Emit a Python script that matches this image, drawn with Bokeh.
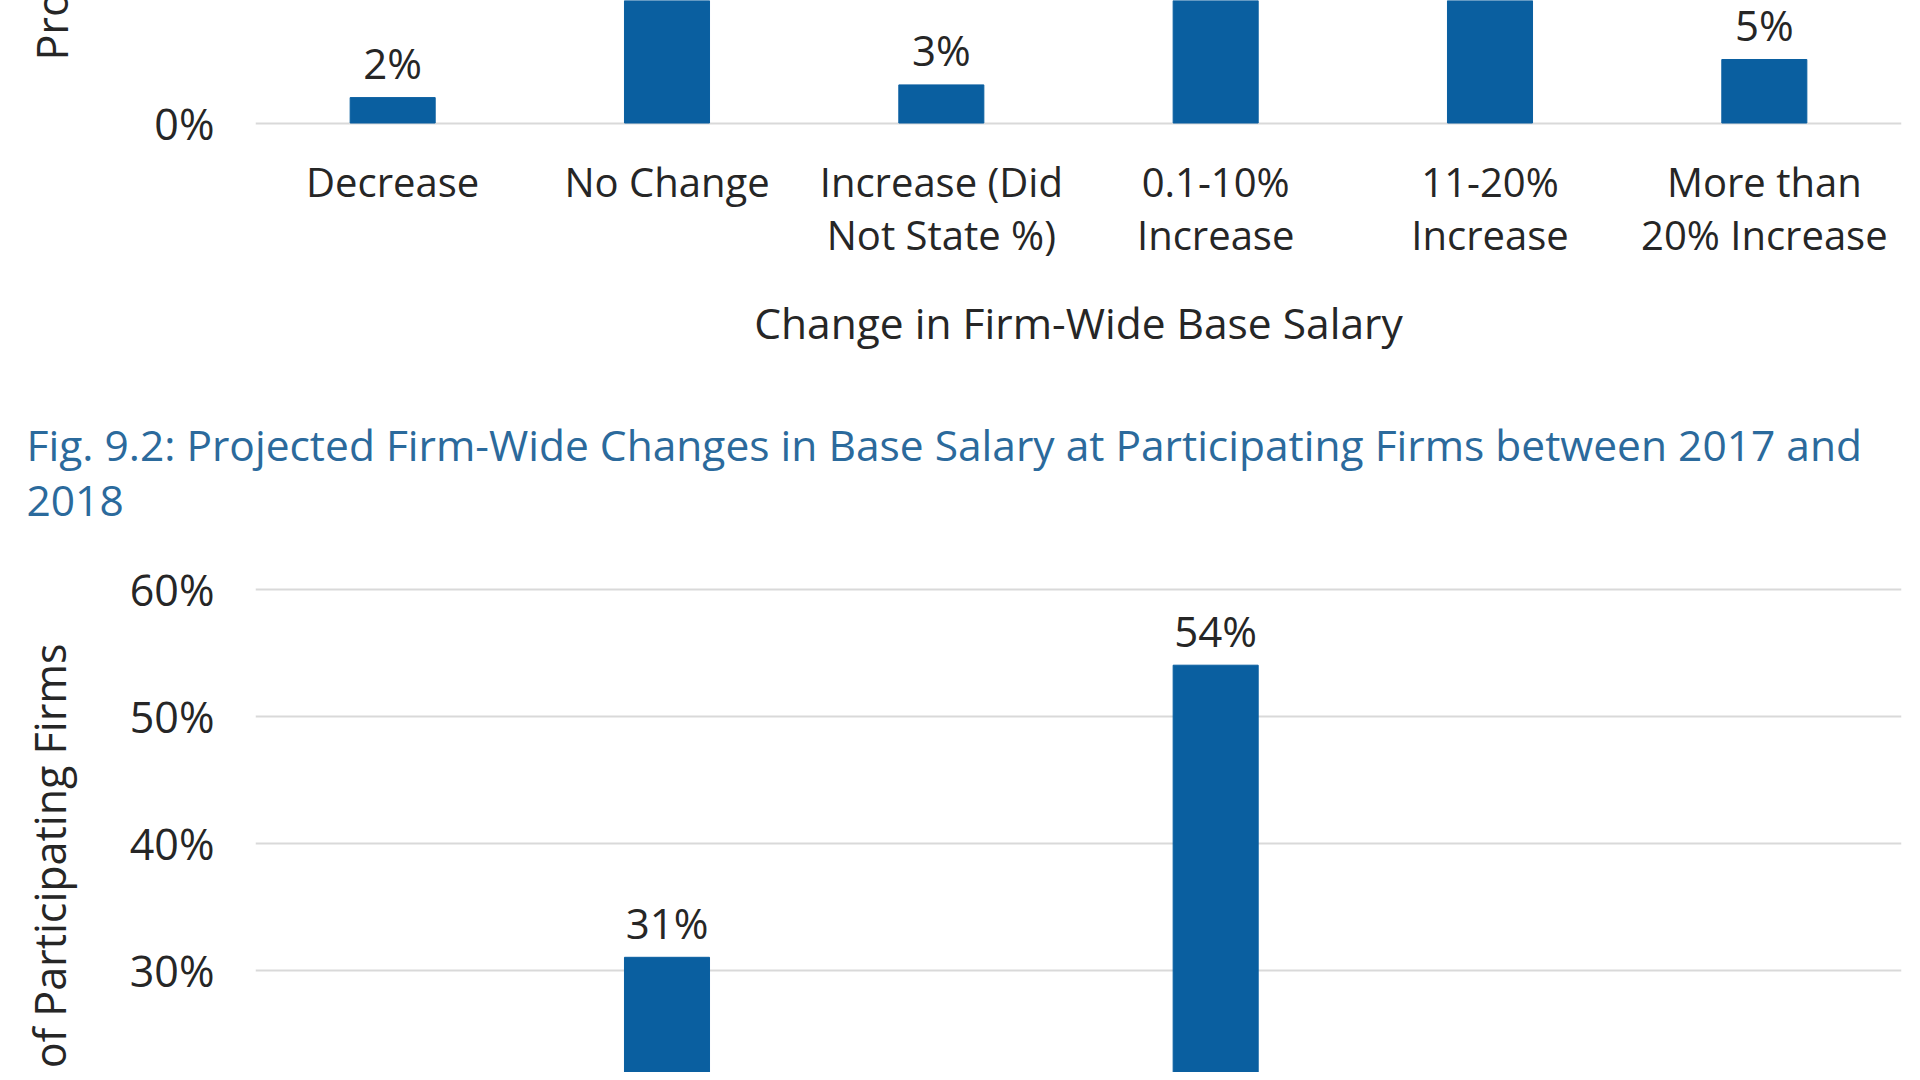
from bokeh.core.properties import value
from bokeh.embed import file_html
from bokeh.layouts import column
from bokeh.models import (ColumnDataSource, FactorRange, FixedTicker, LabelSet,
                          PrintfTickFormatter, Range1d, Title)
from bokeh.plotting import figure
from bokeh.resources import INLINE

# ---------------- data ----------------
categories = [
    "Decrease",
    "No Change",
    "Increase (Did\nNot State %)",
    "0.1-10%\nIncrease",
    "11-20%\nIncrease",
    "More than\n20% Increase",
]
# Fig. 9.1 (only the bottom of this chart is visible)
change_2017 = [2, 30, 3, 45, 15, 5]
# Fig. 9.2 (only the top of this chart is visible)
projected_2018 = [1, 31, 2, 54, 10, 2]
y_ticks = [0, 10, 20, 30, 40, 50, 60]
x_title = "Change in Firm-Wide Base Salary"
y_title = "Proportion of Participating Firms"
fig2_title = ("Fig. 9.2: Projected Firm-Wide Changes in Base Salary at "
              "Participating Firms between 2017 and\n2018")

# ---------------- style ----------------
FONT = "Open Sans"
BAR = "#0a5fa0"
TEXT = "#262626"
TITLE = "#2b6a9c"
GRID = "#d9d9d9"
W = 1904
TOTAL_H = 1072
PX_PER_PCT = 12.7
FRAME_LEFT = 255
FRAME_RIGHT_PAD = 3
PAD = 2.5  # px so that edge grid lines stay inside the frame

H1 = 355
FRAME1_H = 125
H2 = TOTAL_H - H1
FRAME2_TOP = 231
FRAME2_H = H2 - FRAME2_TOP


def label_source(vals, lo, hi):
    xs, ys, ts = [], [], []
    for c, v in zip(categories, vals):
        if lo <= v <= hi:
            xs.append(c)
            ys.append(v)
            ts.append(f"{v}%")
    return ColumnDataSource(dict(x=xs, y=ys, t=ts))


def style_common(p):
    p.outline_line_color = None
    p.xgrid.grid_line_color = None
    p.ygrid.grid_line_color = GRID
    p.ygrid.grid_line_width = 2
    ya = p.yaxis[0]
    ya.ticker = FixedTicker(ticks=y_ticks)
    ya.formatter = PrintfTickFormatter(format="%d%%")
    ya.axis_line_color = None
    ya.major_tick_line_color = None
    ya.minor_tick_line_color = None
    ya.major_label_standoff = 35
    ya.major_label_text_font = FONT
    ya.major_label_text_font_size = "43px"
    ya.major_label_text_color = TEXT


def add_parts(p, vals, lo, hi, align, offset, gap_lh):
    src = ColumnDataSource(dict(x=categories, top=vals))
    p.vbar(x="x", top="top", width=0.31, source=src,
           fill_color=BAR, line_color=BAR)
    labels = LabelSet(x="x", y="y", text="t", source=label_source(vals, lo, hi),
                      y_offset=35, text_align="center", text_baseline="middle",
                      text_font=value(FONT), text_font_size="42px", text_color=TEXT)
    p.add_layout(labels)
    # vertical axis title; a blank second line keeps it away from the tick labels
    ytitle = Title(text=y_title + "\n\u00a0", align=align, offset=offset, standoff=0,
                   text_font=FONT, text_font_size="43px", text_line_height=gap_lh,
                   text_font_style="normal", text_color=TEXT)
    p.add_layout(ytitle, "left")


# ---------------- figure 1 (bottom part visible) ----------------
y1_lo = -PAD / PX_PER_PCT
y1_hi = (FRAME1_H - PAD) / PX_PER_PCT
p1 = figure(width=W, height=H1, output_backend="svg", toolbar_location=None,
            x_range=FactorRange(factors=categories), y_range=Range1d(y1_lo, y1_hi),
            min_border_left=FRAME_LEFT, min_border_right=FRAME_RIGHT_PAD,
            min_border_top=0, min_border_bottom=H1 - FRAME1_H)
style_common(p1)
add_parts(p1, change_2017, y1_lo, y1_hi, "left", 65, 1.19)
xa = p1.xaxis[0]
xa.axis_label = x_title
xa.axis_label_text_font = FONT
xa.axis_label_text_font_size = "42.5px"
xa.axis_label_text_font_style = "normal"
xa.axis_label_text_color = TEXT
xa.axis_label_standoff = 29
xa.axis_line_color = None
xa.major_tick_line_color = None
xa.major_label_standoff = 22
xa.major_label_text_font = FONT
xa.major_label_text_font_size = "40px"
xa.major_label_text_color = TEXT
xa.major_label_text_line_height = 0.967

# ---------------- figure 2 (top part visible) ----------------
y2_hi = y_ticks[-1] + PAD / PX_PER_PCT
y2_lo = y2_hi - FRAME2_H / PX_PER_PCT
p2 = figure(width=W, height=H2, output_backend="svg", toolbar_location=None,
            x_range=FactorRange(factors=categories),
            y_range=Range1d(y2_lo, y2_hi),
            min_border_left=FRAME_LEFT, min_border_right=FRAME_RIGHT_PAD,
            min_border_top=FRAME2_TOP, min_border_bottom=0,
            title=fig2_title)
style_common(p2)
add_parts(p2, projected_2018, y2_lo, y2_hi, "right", 57, 0.8)
p2.xaxis.visible = False
p2.title.align = "left"
p2.title.offset = -229
p2.title.standoff = 117
p2.title.text_font = FONT
p2.title.text_font_size = "42.5px"
p2.title.text_font_style = "normal"
p2.title.text_color = TITLE
p2.title.text_line_height = 0.96

layout = column(p1, p2, spacing=0)
open("out.html", "w").write(file_html(layout, INLINE))
